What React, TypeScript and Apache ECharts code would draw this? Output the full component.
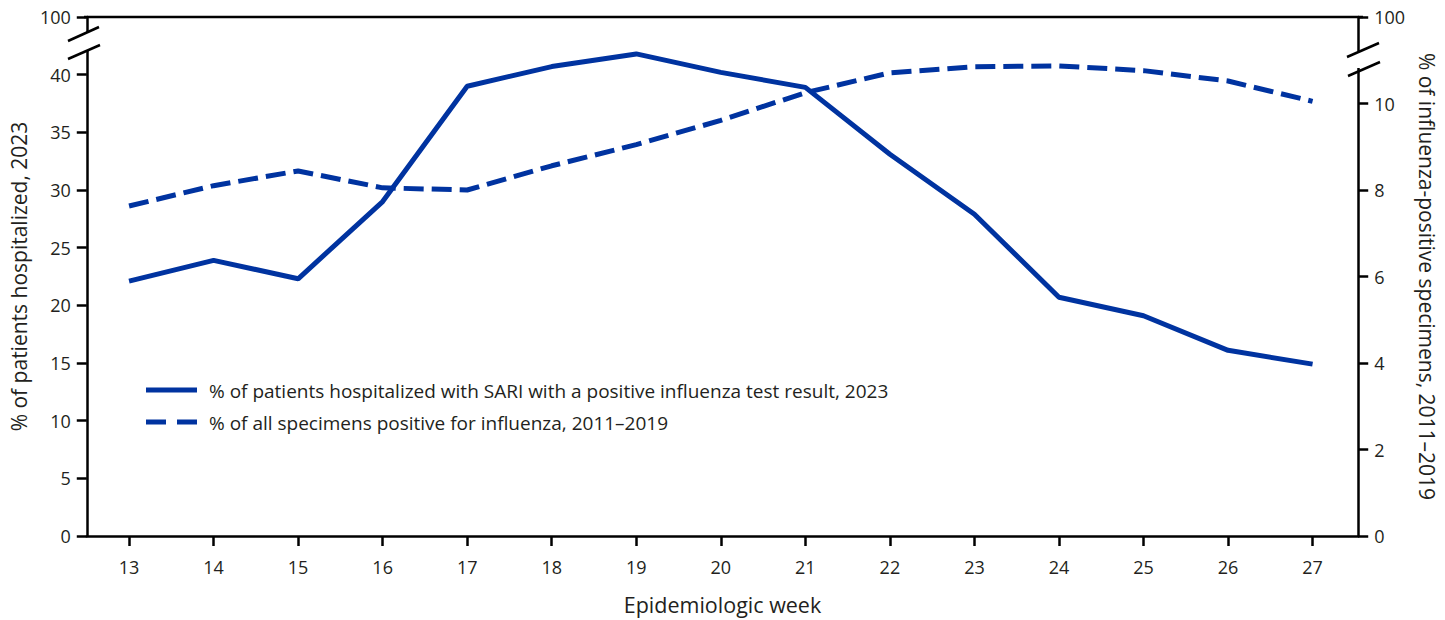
import React, { useEffect, useRef } from "react";
import * as echarts from "echarts";

const weeks = [13, 14, 15, 16, 17, 18, 19, 20, 21, 22, 23, 24, 25, 26, 27];
const sariPct = [22.1, 23.9, 22.3, 29.0, 39.0, 40.7, 41.8, 40.2, 38.9, 33.1, 27.9, 20.7, 19.1, 16.1, 14.9];
const fluPct = [7.63, 8.1, 8.44, 8.05, 8.0, 8.56, 9.05, 9.61, 10.25, 10.71, 10.85, 10.87, 10.76, 10.52, 10.05];

const sariName = "% of patients hospitalized with SARI with a positive influenza test result, 2023";
const fluName = "% of all specimens positive for influenza, 2011\u20132019";

const FONT = "'Open Sans', 'Noto Sans', sans-serif";
const BLUE = "#0033A0";
const TXT = "#231F20";

export default function App() {
  const ref = useRef<HTMLDivElement>(null);
  useEffect(() => {
    if (!ref.current) return;
    const chart = echarts.init(ref.current, null, { renderer: "svg" });
    const axisLine = { show: true, lineStyle: { color: "#000", width: 2.5 } };
    const axisTick = { show: true, length: 10, lineStyle: { color: "#000", width: 2.5 } };
    const labelStyle = { color: TXT, fontSize: 18, fontFamily: FONT };
    const black = { stroke: "#000", lineWidth: 2.5 };
    chart.setOption({
      animation: false,
      textStyle: { fontFamily: FONT },
      grid: { left: 84, right: 82, top: 17, bottom: 83, containLabel: false },
      xAxis: {
        type: "value",
        min: 12.5,
        max: 27.54,
        name: "Epidemiologic week",
        nameLocation: "middle",
        nameGap: 57,
        nameTextStyle: { color: TXT, fontSize: 21.5, fontFamily: FONT },
        axisLine,
        axisTick: { ...axisTick, customValues: weeks },
        axisLabel: { ...labelStyle, margin: 22, customValues: weeks },
        splitLine: { show: false },
      },
      yAxis: [
        {
          type: "value",
          min: 0,
          max: 45,
          interval: 5,
          position: "left",
          name: "% of patients hospitalized, 2023",
          nameLocation: "middle",
          nameGap: 55,
          nameTextStyle: { color: TXT, fontSize: 21, fontFamily: FONT },
          axisLine,
          axisTick,
          axisLabel: { ...labelStyle, margin: 16, formatter: (v: number) => (v === 45 ? "100" : String(v)) },
          splitLine: { show: false },
        },
        {
          type: "value",
          min: 0,
          max: 12,
          interval: 2,
          position: "right",
          name: "% of influenza-positive specimens, 2011\u20132019",
          nameLocation: "middle",
          nameRotate: -90,
          nameGap: 29,
          nameTextStyle: { color: TXT, fontSize: 21, fontFamily: FONT },
          axisLine,
          axisTick,
          axisLabel: { ...labelStyle, margin: 16, formatter: (v: number) => (v === 12 ? "100" : String(v)) },
          splitLine: { show: false },
        },
      ],
      series: [
        {
          name: sariName,
          type: "line",
          yAxisIndex: 0,
          symbol: "none",
          lineStyle: { color: BLUE, width: 5 },
          itemStyle: { color: BLUE },
          data: weeks.map((w, i) => [w, sariPct[i]]),
        },
        {
          name: fluName,
          type: "line",
          yAxisIndex: 1,
          symbol: "none",
          lineStyle: { color: BLUE, width: 5, type: [20, 8] },
          itemStyle: { color: BLUE },
          data: weeks.map((w, i) => [w, fluPct[i]]),
        },
      ],
      graphic: [
        { type: "line", z: 100, shape: { x1: 84, y1: 17, x2: 1363, y2: 17 }, style: black },
        { type: "rect", z: 100, shape: { x: 78, y: 33, width: 12, height: 17 }, style: { fill: "#fff" } },
        { type: "line", z: 101, shape: { x1: 68, y1: 41, x2: 99, y2: 27 }, style: black },
        { type: "line", z: 101, shape: { x1: 68, y1: 59, x2: 100, y2: 45 }, style: black },
        { type: "rect", z: 100, shape: { x: 1357, y: 51, width: 12, height: 17 }, style: { fill: "#fff" } },
        { type: "line", z: 101, shape: { x1: 1347, y1: 57, x2: 1379, y2: 43 }, style: black },
        { type: "line", z: 101, shape: { x1: 1348, y1: 76, x2: 1380, y2: 62 }, style: black },
        // legend
        { type: "line", z: 101, shape: { x1: 146, y1: 390, x2: 197, y2: 390 }, style: { stroke: BLUE, lineWidth: 5 } },
        { type: "line", z: 101, shape: { x1: 146, y1: 422, x2: 197, y2: 422 }, style: { stroke: BLUE, lineWidth: 5, lineDash: [20, 11] } },
        { type: "text", z: 101, x: 209, y: 391, style: { text: sariName, fill: TXT, fontSize: 19, fontFamily: FONT, verticalAlign: "middle" } },
        { type: "text", z: 101, x: 209, y: 423, style: { text: fluName, fill: TXT, fontSize: 19, fontFamily: FONT, verticalAlign: "middle" } },
      ],
    });
    return () => chart.dispose();
  }, []);
  return <div ref={ref} style={{ position: "absolute", left: 0, top: 0, width: 1445, height: 620 }} />;
}
